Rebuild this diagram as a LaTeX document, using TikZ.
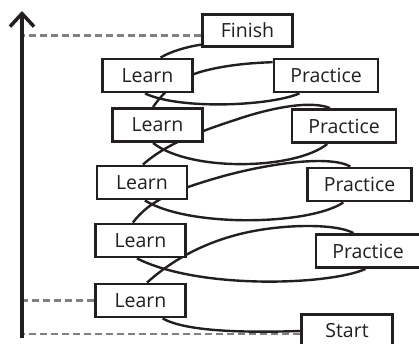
\documentclass[tikz,border=0pt]{standalone}
\usepackage{fontspec}
\setmainfont{Open Sans}
\usetikzlibrary{arrows.meta,backgrounds}
\definecolor{ink}{RGB}{35,31,32}
\definecolor{dashgray}{RGB}{128,128,128}
\begin{document}
\begin{tikzpicture}[x=1pt,y=-1pt,
  box/.style={draw=ink,line width=2.9pt,fill=white,inner sep=0pt,
    minimum height=33pt,text=ink,font=\fontsize{19.5}{22}\selectfont},
  learnbox/.style={box,minimum width=90pt},
  practicebox/.style={box,minimum width=104pt},
  loopline/.style={draw=ink,line width=2.4pt},
  dashline/.style={draw=dashgray,line width=2.4pt,dash pattern=on 7.5pt off 3.5pt},
  axisline/.style={draw=ink,line width=4pt,
    -{Straight Barb[length=13pt,width=24pt,line width=3.5pt]}}]
\useasboundingbox (0,0) rectangle (419,344);
\coordinate (axisbot) at (22,338);
\coordinate (axistop) at (22,11);
\node[box,minimum width=90pt,minimum height=32pt] (Finish) at (247.5,30.5) {Finish};
\node[learnbox] (Learn1) at (147.5,75.5) {Learn};
\node[practicebox] (Practice1) at (326,75.5) {Practice};
\node[learnbox] (Learn2) at (157.5,125) {Learn};
\node[practicebox] (Practice2) at (344,126) {Practice};
\node[learnbox] (Learn3) at (142,182.5) {Learn};
\node[practicebox] (Practice3) at (359.5,184.5) {Practice};
\node[learnbox] (Learn4) at (140.5,240.5) {Learn};
\node[practicebox] (Practice4) at (368,251) {Practice};
\node[learnbox] (Learn5) at (140.5,300.5) {Learn};
\node[box,minimum width=91pt] (Start) at (347,331) {Start};
\begin{scope}[on background layer]
\draw[loopline] (Start.west) .. controls (240,333) and (185,331) .. (Learn5.-39);
\draw[loopline] (Learn5.70) .. controls (170,262) and (200,244) .. (240,234)
  .. controls (280,224) and (335,223) .. (Practice4.129);
\draw[loopline] (Practice4.-98) .. controls (330,285) and (200,290) .. (Learn4.-101);
\draw[loopline] (Learn4.113) .. controls (150,200) and (175,190) .. (220,177)
  .. controls (270,163) and (330,155) .. (Practice3.117);
\draw[loopline] (Practice3.-132) .. controls (310,225) and (190,228) .. (Learn3.-81);
\draw[loopline] (Learn3.87) .. controls (165,145) and (195,133) .. (235,120)
  .. controls (270,108) and (310,100) .. (Practice2.128);
\draw[loopline] (Practice2.-133) .. controls (295,170) and (190,172) .. (Learn2.-104);
\draw[loopline] (Learn2.104) .. controls (163,93) and (175,80) .. (200,72)
  .. controls (225,65) and (250,63) .. (Practice1.166);
\draw[loopline] (Practice1.-146) .. controls (270,106) and (180,110) .. (Learn1.-98);
\draw[loopline] (Learn1.54) .. controls (170,52) and (185,47) .. (Finish.-163);
\end{scope}
\draw[dashline] (Finish.-174) -- (Finish.-174 -| axisbot);
\draw[dashline] (Learn5.west) -- (Learn5.west -| axisbot);
\draw[dashline] ([yshift=-3pt]Start.west) -- ([yshift=-3pt]Start.west -| axisbot);
\draw[axisline] (axisbot) -- (axistop);
\end{tikzpicture}
\end{document}
